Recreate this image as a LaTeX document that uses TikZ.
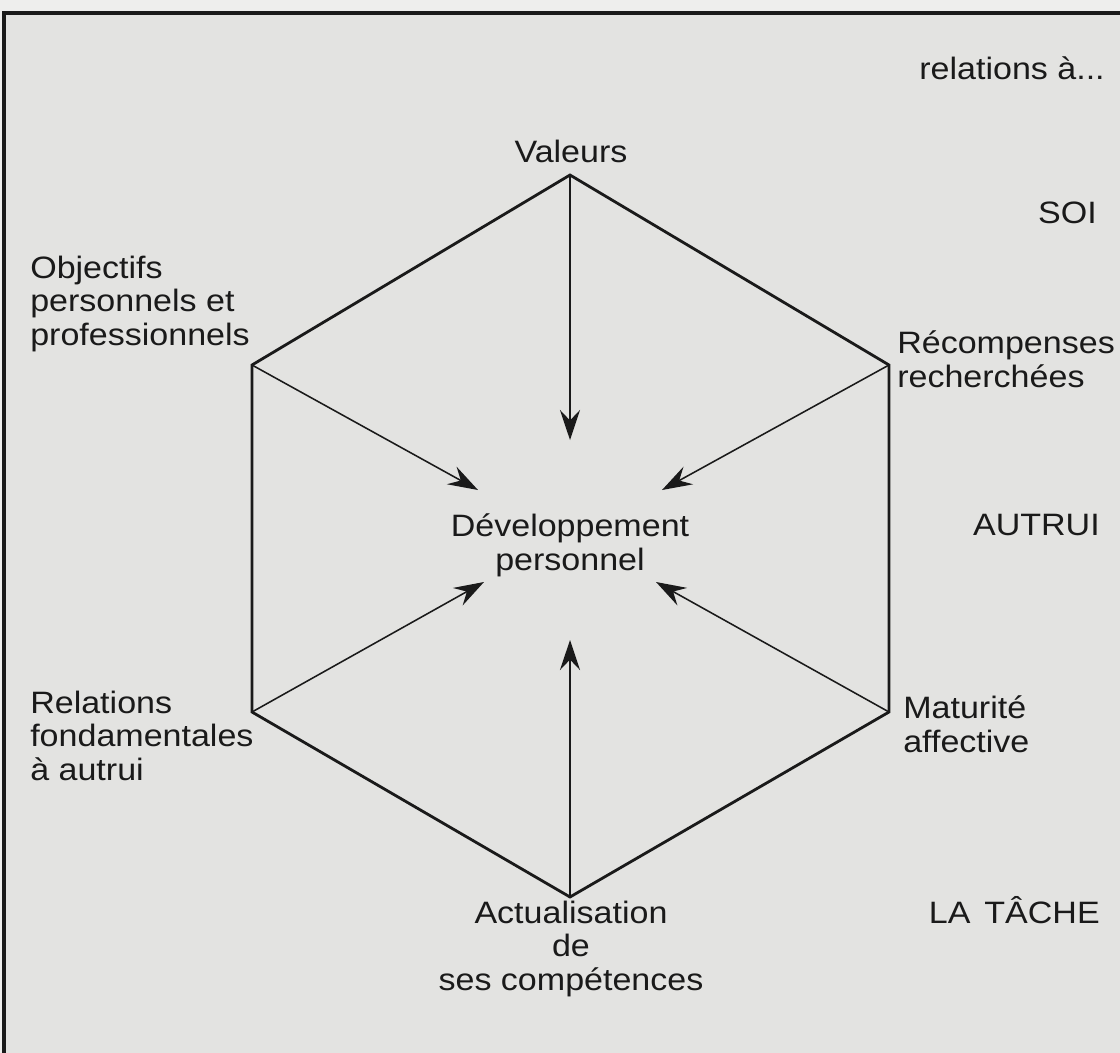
\documentclass[tikz,border=0pt]{standalone}
\usepackage{fontspec}
\setmainfont{Liberation Sans}[FakeStretch=1.1]
\usetikzlibrary{arrows.meta}

\definecolor{paper}{RGB}{227,227,225}
\definecolor{margin}{RGB}{238,238,237}
\definecolor{ink}{RGB}{26,26,26}

\tikzset{
  lbl/.style={inner sep=0pt, text=ink,
    font=\fontsize{22pt}{23.5pt}\selectfont},
  hexline/.style={draw=ink, line width=2pt, line join=miter},
  ray/.style={draw=ink, line width=1.1pt,
    -{Stealth[length=7.5mm, width=5mm, inset=2.6mm]}}
}

\begin{document}
\begin{tikzpicture}[x=0.025cm, y=-0.025cm]
  \useasboundingbox (0,0) rectangle (1120,1053);
  \fill[margin] (0,0) rectangle (1120,1053);
  \fill[paper] (4,13) rectangle (1120,1053);
  \draw[ink, line width=2.4pt] (4,1053) -- (4,13) -- (1120,13);

  % corners of the hexagon
  \coordinate (top) at (570,175);
  \coordinate (ul) at (252,365);
  \coordinate (ur) at (889,365);
  \coordinate (ll) at (252,712);
  \coordinate (lr) at (889,712);
  \coordinate (bot) at (570,897);
  % arrow tips round the centre
  \coordinate (ttop) at (570,440);
  \coordinate (tul) at (478,490);
  \coordinate (tur) at (662,490);
  \coordinate (tll) at (484,582);
  \coordinate (tlr) at (656,582);
  \coordinate (tbot) at (570,640);

  % multi-line labels sit on the baseline of their last line
  \node[lbl, anchor=base east] (rel) at (1105,79) {relations à...};
  \node[lbl, anchor=base] (val) at (571,162) {Valeurs};
  \node[lbl, anchor=base east] (soi) at (1097,223) {SOI};
  \node[lbl, anchor=base west, align=left] (obj) at (30,345)
    {Objectifs\\personnels et\\professionnels};
  \node[lbl, anchor=base west, align=left] (rec) at (897,387)
    {Récompenses\\recherchées};
  \node[lbl, anchor=base, align=center] (dev) at (570,570)
    {Développement\\personnel};
  \node[lbl, anchor=base east] (autrui) at (1100,535) {AUTRUI};
  \node[lbl, anchor=base west, align=left] (fond) at (30,780)
    {Relations\\fondamentales\\à autrui};
  \node[lbl, anchor=base west, align=left] (mat) at (903,752)
    {Maturité\\affective};
  \node[lbl, anchor=base, align=center] (act) at (571,990)
    {Actualisation\\de\\ses compétences};
  \node[lbl, anchor=base east] (tache) at (1100,923) {LA\hspace{0.45em}TÂCHE};

  \draw[hexline] (top) -- (ur) -- (lr) -- (bot) -- (ll) -- (ul) -- cycle;
  \draw[ray] (top) -- (ttop);
  \draw[ray] (ul) -- (tul);
  \draw[ray] (ur) -- (tur);
  \draw[ray] (ll) -- (tll);
  \draw[ray] (lr) -- (tlr);
  \draw[ray] (bot) -- (tbot);
\end{tikzpicture}
\end{document}
